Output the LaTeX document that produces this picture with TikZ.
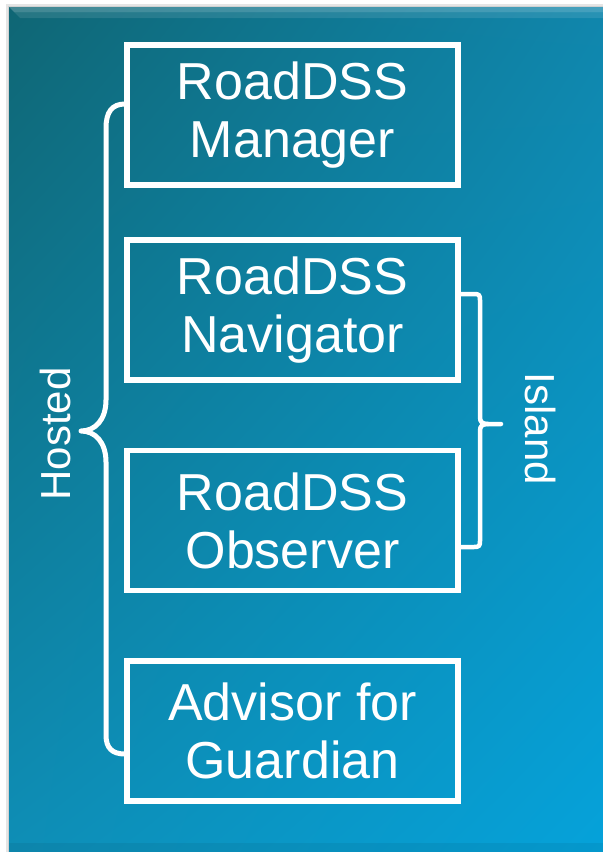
\documentclass[tikz,border=0pt]{standalone}
\usepackage{fontspec}
\setmainfont{Liberation Sans}
\usetikzlibrary{shadings}
\definecolor{bgTL}{RGB}{15,102,116}
\definecolor{bgTR}{RGB}{16,134,172}
\definecolor{bgBL}{RGB}{14,142,182}
\definecolor{bgBR}{RGB}{5,162,218}
\begin{document}
\begin{tikzpicture}[x=1bp,y=-1bp,
  boxnode/.style={draw=white, line width=5.5bp, minimum width=331bp, minimum height=140bp,
    inner sep=0pt, text=white, align=center, font=\fontsize{52bp}{58bp}\selectfont},
  bracepath/.style={draw=white, line width=5bp, line cap=round, line join=round},
  sidelabel/.style={text=white, inner sep=0pt, font=\fontsize{42bp}{48bp}\selectfont}]
\useasboundingbox (0,0) rectangle (603,852);
\fill[white] (0,0) rectangle (603,852);
% soft shadow
\fill[black!10] (6,4) rectangle (603,852);
\fill[black!18] (8,6) rectangle (603,852);
% background
\shade[upper left=bgTL, upper right=bgTR, lower left=bgBL, lower right=bgBR]
  (9,7) rectangle (603,852);
% top bevel highlight
\fill[white, opacity=0.22] (9,7) -- (603,7) -- (603,12) -- (14,12) -- cycle;
\fill[white, opacity=0.10] (14,12) -- (603,12) -- (603,18) -- (20,18) -- cycle;
% bottom dark strip
\fill[black, opacity=0.06] (9,843) rectangle (603,852);
% boxes
\node[boxnode] (mgr) at (292.5,115) {RoadDSS\\Manager};
\node[boxnode] (nav) at (292.5,310) {RoadDSS\\Navigator};
\node[boxnode] (obs) at (292.5,520.5) {RoadDSS\\Observer};
\node[boxnode] (adv) at (292.5,731) {Advisor for\\Guardian};
% Hosted brace
\coordinate (hTop) at (125,104);
\coordinate (hTip) at (81,431);
\coordinate (hBot) at (125,754);
\draw[bracepath] (hTop) .. controls (112,104) and (106,112) .. (106,128)
  -- (106,400) .. controls (106,420) and (95,431) .. (hTip)
  .. controls (95,431) and (106,442) .. (106,462)
  -- (106,735) .. controls (106,748) and (112,754) .. (hBot);
% Island brace
\coordinate (iTop) at (461,294);
\coordinate (iTip) at (501,424);
\coordinate (iBot) at (461,547);
\draw[bracepath, line width=4.5bp] (iTop) -- (474,294) .. controls (479,294) and (480,295) .. (480,300)
  -- (480,417) .. controls (480,422) and (482,424) .. (488,424) -- (iTip);
\draw[bracepath, line width=4.5bp] (488,424) .. controls (482,424) and (480,426) .. (480,431)
  -- (480,541) .. controls (480,546) and (479,547) .. (474,547) -- (iBot);
% labels
\node[sidelabel, rotate=90] (hosted) at (55,434) {Hosted};
\node[sidelabel, rotate=-90] (island) at (541,429) {Island};
\end{tikzpicture}
\end{document}
